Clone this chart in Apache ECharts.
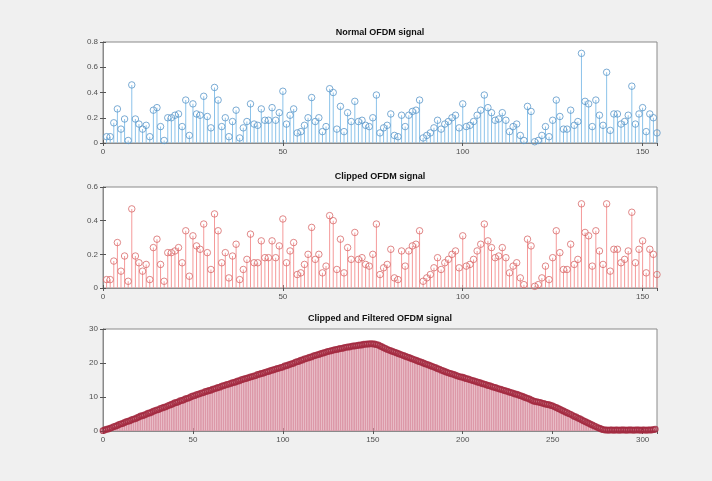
<!DOCTYPE html>
<html>
<head>
<meta charset="utf-8">
<script src="https://cdn.jsdelivr.net/npm/echarts@6/dist/echarts.min.js"></script>
<style>
  html, body { margin: 0; padding: 0; background: #f0f0f0; }
  #chart { width: 712px; height: 481px; }
</style>
</head>
<body>
<div id="chart"></div>
<script>
// samples 1..154
const normalSignal = [
  0.05, 0.05, 0.16, 0.27, 0.11, 0.19, 0.02, 0.46, 0.19, 0.15,
  0.11, 0.14, 0.05, 0.26, 0.28, 0.13, 0.02, 0.20, 0.20, 0.22,
  0.23, 0.13, 0.34, 0.06, 0.31, 0.23, 0.22, 0.37, 0.21, 0.12,
  0.44, 0.34, 0.13, 0.20, 0.05, 0.17, 0.26, 0.04, 0.12, 0.17,
  0.31, 0.15, 0.14, 0.27, 0.18, 0.18, 0.28, 0.18, 0.24, 0.41,
  0.15, 0.22, 0.27, 0.08, 0.09, 0.14, 0.20, 0.36, 0.17, 0.20,
  0.09, 0.13, 0.43, 0.40, 0.11, 0.29, 0.09, 0.24, 0.17, 0.33,
  0.17, 0.18, 0.14, 0.13, 0.20, 0.38, 0.08, 0.12, 0.14, 0.23,
  0.06, 0.05, 0.22, 0.13, 0.22, 0.25, 0.26, 0.34, 0.04, 0.06,
  0.08, 0.12, 0.18, 0.11, 0.15, 0.17, 0.20, 0.22, 0.12, 0.31,
  0.13, 0.14, 0.17, 0.22, 0.26, 0.38, 0.28, 0.24, 0.18, 0.19,
  0.24, 0.18, 0.09, 0.13, 0.15, 0.06, 0.02, 0.29, 0.25, 0.01,
  0.02, 0.06, 0.13, 0.05, 0.18, 0.34, 0.21, 0.11, 0.11, 0.26,
  0.14, 0.17, 0.71, 0.33, 0.31, 0.13, 0.34, 0.22, 0.14, 0.56,
  0.10, 0.23, 0.23, 0.15, 0.17, 0.22, 0.45, 0.15, 0.23, 0.28,
  0.09, 0.23, 0.20, 0.08
];

const clippedSignal = [
  0.05, 0.05, 0.16, 0.27, 0.10, 0.19, 0.04, 0.47, 0.19, 0.15,
  0.10, 0.14, 0.05, 0.24, 0.29, 0.14, 0.04, 0.21, 0.21, 0.22,
  0.24, 0.15, 0.34, 0.07, 0.31, 0.25, 0.23, 0.38, 0.21, 0.11,
  0.44, 0.34, 0.15, 0.21, 0.06, 0.19, 0.26, 0.05, 0.11, 0.17,
  0.32, 0.15, 0.15, 0.28, 0.18, 0.18, 0.28, 0.18, 0.25, 0.41,
  0.15, 0.22, 0.27, 0.08, 0.09, 0.14, 0.20, 0.36, 0.17, 0.20,
  0.09, 0.13, 0.43, 0.40, 0.11, 0.29, 0.09, 0.24, 0.17, 0.33,
  0.17, 0.18, 0.14, 0.13, 0.20, 0.38, 0.08, 0.12, 0.14, 0.23,
  0.06, 0.05, 0.22, 0.13, 0.22, 0.25, 0.26, 0.34, 0.04, 0.06,
  0.08, 0.12, 0.18, 0.11, 0.15, 0.17, 0.20, 0.22, 0.12, 0.31,
  0.13, 0.14, 0.17, 0.22, 0.26, 0.38, 0.28, 0.24, 0.18, 0.19,
  0.24, 0.18, 0.09, 0.13, 0.15, 0.06, 0.02, 0.29, 0.25, 0.01,
  0.02, 0.06, 0.13, 0.05, 0.18, 0.34, 0.21, 0.11, 0.11, 0.26,
  0.14, 0.17, 0.50, 0.33, 0.31, 0.13, 0.34, 0.22, 0.14, 0.50,
  0.10, 0.23, 0.23, 0.15, 0.17, 0.22, 0.45, 0.15, 0.23, 0.28,
  0.09, 0.23, 0.20, 0.08
];

// samples 0..307
const filteredSignal = [
  0.1, 0.3, 0.5, 0.6, 0.8, 1.0, 1.3, 1.4, 1.6, 1.9,
  2.1, 2.2, 2.5, 2.7, 2.9, 3.0, 3.3, 3.5, 3.6, 3.9,
  4.1, 4.4, 4.5, 4.7, 4.9, 5.2, 5.3, 5.5, 5.8, 6.0,
  6.2, 6.3, 6.6, 6.8, 7.0, 7.1, 7.4, 7.6, 7.8, 8.0,
  8.3, 8.4, 8.6, 8.9, 9.0, 9.2, 9.5, 9.6, 9.8, 10.1,
  10.3, 10.4, 10.7, 10.8, 11.0, 11.2, 11.3, 11.6, 11.7, 11.9,
  12.0, 12.3, 12.4, 12.6, 12.8, 12.9, 13.2, 13.3, 13.5, 13.7,
  13.8, 14.0, 14.2, 14.3, 14.5, 14.7, 14.8, 15.1, 15.2, 15.4,
  15.5, 15.7, 15.9, 16.0, 16.2, 16.3, 16.6, 16.7, 16.9, 17.0,
  17.2, 17.4, 17.5, 17.7, 17.9, 18.0, 18.2, 18.4, 18.5, 18.7,
  18.8, 19.1, 19.2, 19.4, 19.6, 19.8, 19.9, 20.2, 20.4, 20.5,
  20.8, 20.9, 21.2, 21.3, 21.5, 21.7, 21.8, 22.1, 22.2, 22.4,
  22.5, 22.7, 22.9, 23.0, 23.2, 23.4, 23.5, 23.6, 23.8, 23.9,
  24.0, 24.1, 24.3, 24.3, 24.5, 24.6, 24.7, 24.7, 24.9, 25.0,
  25.0, 25.1, 25.2, 25.3, 25.3, 25.5, 25.5, 25.6, 25.6, 25.7,
  25.6, 25.6, 25.4, 25.3, 25.0, 24.8, 24.5, 24.3, 24.0, 23.8,
  23.6, 23.4, 23.2, 23.0, 22.8, 22.6, 22.4, 22.2, 22.0, 21.8,
  21.6, 21.4, 21.2, 21.0, 20.8, 20.6, 20.4, 20.2, 20.0, 19.8,
  19.6, 19.4, 19.2, 19.0, 18.8, 18.6, 18.3, 18.2, 17.9, 17.7,
  17.5, 17.3, 17.1, 16.9, 16.8, 16.6, 16.4, 16.2, 16.0, 15.9,
  15.8, 15.6, 15.4, 15.3, 15.1, 14.9, 14.8, 14.6, 14.4, 14.3,
  14.1, 13.9, 13.8, 13.6, 13.4, 13.3, 13.1, 12.9, 12.8, 12.6,
  12.4, 12.3, 12.1, 11.9, 11.8, 11.6, 11.4, 11.3, 11.1, 10.9,
  10.8, 10.6, 10.4, 10.2, 10.0, 9.8, 9.6, 9.4, 9.1, 8.9,
  8.7, 8.6, 8.5, 8.4, 8.2, 8.1, 7.9, 7.8, 7.7, 7.5,
  7.4, 7.1, 6.9, 6.6, 6.4, 6.1, 5.9, 5.6, 5.4, 5.1,
  4.9, 4.6, 4.3, 4.1, 3.8, 3.6, 3.3, 3.0, 2.8, 2.5,
  2.3, 2.0, 1.8, 1.5, 1.3, 1.0, 0.8, 0.6, 0.4, 0.3,
  0.3, 0.2, 0.3, 0.3, 0.2, 0.3, 0.3, 0.2, 0.3, 0.3,
  0.3, 0.2, 0.3, 0.3, 0.3, 0.2, 0.3, 0.3, 0.3, 0.2,
  0.3, 0.3, 0.2, 0.3, 0.3, 0.3, 0.4, 0.5
];

const titles = ['Normal OFDM signal', 'Clipped OFDM signal', 'Clipped and Filtered OFDM signal'];

const normalPts = normalSignal.map((v, i) => [i + 1, v]);
const clippedPts = clippedSignal.map((v, i) => [i + 1, v]);
const filteredPts = filteredSignal.map((v, i) => [i, v]);

const chart = echarts.init(document.getElementById('chart'));

const axisColor = '#8a8a8a';
const labelStyle = { color: '#505050', fontSize: 8, fontFamily: 'Liberation Sans', margin: 5 };

const panels = [
  { top: 42, height: 101, xMax: 154, xStep: 50, yMax: 0.8, yStep: 0.2 },
  { top: 187, height: 101, xMax: 154, xStep: 50, yMax: 0.6, yStep: 0.2 },
  { top: 329, height: 102, xMax: 308, xStep: 50, yMax: 30, yStep: 10 }
];

const grid = panels.map(p => ({
  left: 103, width: 554, top: p.top, height: p.height,
  show: true, backgroundColor: '#fff', borderColor: axisColor, borderWidth: 1
}));

const xAxis = [];
const yAxis = [];
panels.forEach((p, g) => {
  ['bottom', 'top'].forEach(pos => {
    xAxis.push({
      type: 'value', gridIndex: g, position: pos, min: 0, max: p.xMax, interval: p.xStep,
      axisLine: { lineStyle: { color: axisColor } },
      axisTick: { inside: true, length: 3, lineStyle: { color: '#555' } },
      axisLabel: pos === 'bottom' ? Object.assign({ showMaxLabel: false }, labelStyle) : { show: false },
      splitLine: { show: false }
    });
  });
  ['left', 'right'].forEach(pos => {
    yAxis.push({
      type: 'value', gridIndex: g, position: pos, min: 0, max: p.yMax, interval: p.yStep,
      axisLine: { show: true, lineStyle: { color: axisColor } },
      axisTick: { show: true, inside: true, length: 3, lineStyle: { color: '#555' } },
      axisLabel: pos === 'left' ? labelStyle : { show: false },
      splitLine: { show: false }
    });
  });
});

function stems(data, g, stemColor, markColor, size, barW, markW) {
  return [
    {
      type: 'bar', xAxisIndex: g * 2, yAxisIndex: g * 2, data: data,
      barWidth: barW, itemStyle: { color: stemColor }, silent: true
    },
    {
      type: 'scatter', xAxisIndex: g * 2, yAxisIndex: g * 2, data: data,
      symbol: 'circle', symbolSize: size,
      itemStyle: { color: 'transparent', borderColor: markColor, borderWidth: markW }
    }
  ];
}

const series = [].concat(
  stems(normalPts, 0, '#8cc3ea', '#5b97c9', 6.5, 1, 1),
  stems(clippedPts, 1, '#f59a9a', '#d86a6a', 6.5, 1, 1),
  stems(filteredPts, 2, '#dc98a8', '#a3283f', 5.5, 1.6, 1.4)
);

const titleY = [33, 177, 319];
const graphic = titles.map((t, i) => ({
  type: 'text', x: 380, y: titleY[i],
  style: {
    text: t, textAlign: 'center', textVerticalAlign: 'middle',
    font: 'bold 9px "Liberation Sans"', fill: '#111'
  }
}));

chart.setOption({
  backgroundColor: '#f0f0f0',
  animation: false,
  grid: grid,
  xAxis: xAxis,
  yAxis: yAxis,
  series: series,
  graphic: graphic
});
</script>
</body>
</html>
